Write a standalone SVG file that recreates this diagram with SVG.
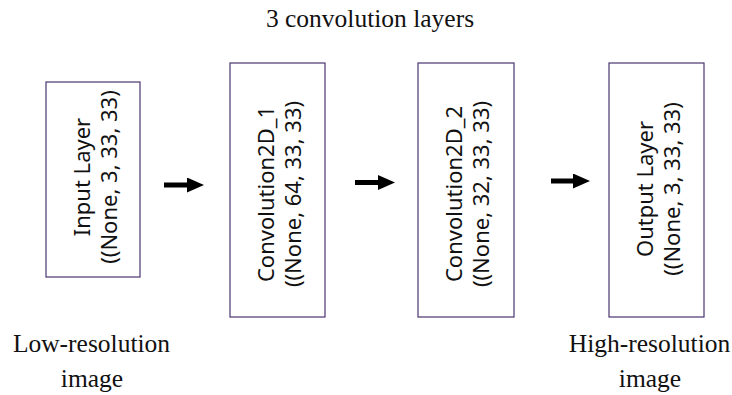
<svg xmlns="http://www.w3.org/2000/svg" width="732" height="395" viewBox="0 0 732 395">
  <style>
    .box { fill: #ffffff; stroke: #4a3570; stroke-width: 1.2; }
    .lbl { font-family: "Noto Sans", "Open Sans", sans-serif; font-size: 22px; fill: #111111; text-anchor: middle; }
    .cap { font-family: "Liberation Serif", "Times New Roman", serif; font-size: 25.5px; fill: #111111; text-anchor: middle; }
    .arrow { stroke: #000000; stroke-width: 5; fill: none; marker-end: url(#head); }
  </style>
  <defs>
    <marker id="head" markerUnits="userSpaceOnUse" markerWidth="17" markerHeight="15" refX="0" refY="7.5" orient="auto">
      <path d="M0,0 L17,7.5 L0,15 Z" fill="#000000"/>
    </marker>
  </defs>

  <rect width="732" height="395" fill="#ffffff"/>

  <!-- captions -->
  <text class="cap" x="370" y="27">3 convolution layers</text>
  <text class="cap" x="91.5" y="352">Low-resolution</text>
  <text class="cap" x="92" y="387">image</text>
  <text class="cap" x="649.5" y="352">High-resolution</text>
  <text class="cap" x="650" y="387">image</text>

  <!-- layer nodes -->
  <g id="input-layer">
    <rect class="box" x="46" y="82" width="94" height="195"/>
    <g transform="translate(93,177) rotate(-90)">
      <text class="lbl" x="0" y="-3">Input Layer</text>
      <text class="lbl" x="0" y="24">((None, 3, 33, 33)</text>
    </g>
  </g>

  <g id="conv2d-1">
    <rect class="box" x="230" y="63" width="95" height="254"/>
    <g transform="translate(277.5,194) rotate(-90)">
      <text class="lbl" x="0" y="-4">Convolution2D_1</text>
      <text class="lbl" x="0" y="23">((None, 64, 33, 33)</text>
    </g>
  </g>

  <g id="conv2d-2">
    <rect class="box" x="418" y="63" width="96" height="254"/>
    <g transform="translate(466,194) rotate(-90)">
      <text class="lbl" x="0" y="-4">Convolution2D_2</text>
      <text class="lbl" x="0" y="23">((None, 32, 33, 33)</text>
    </g>
  </g>

  <g id="output-layer">
    <rect class="box" x="609" y="63" width="95" height="254"/>
    <g transform="translate(656.5,189) rotate(-90)">
      <text class="lbl" x="0" y="-4">Output Layer</text>
      <text class="lbl" x="0" y="23">((None, 3, 33, 33)</text>
    </g>
  </g>

  <!-- connectors -->
  <g id="connectors">
    <line class="arrow" x1="164" y1="185" x2="187" y2="185"/>
    <line class="arrow" x1="355" y1="182.5" x2="378" y2="182.5"/>
    <line class="arrow" x1="551" y1="181" x2="573" y2="181"/>
  </g>
</svg>
